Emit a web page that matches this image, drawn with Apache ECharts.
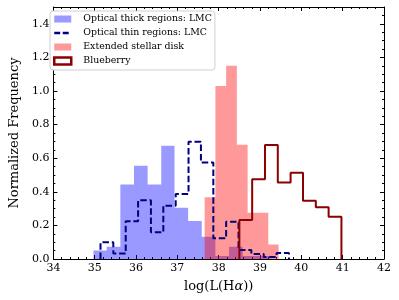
<!DOCTYPE html>
<html>
<head>
<meta charset="utf-8">
<script src="https://cdn.jsdelivr.net/npm/echarts@6/dist/echarts.min.js"></script>
<style>html,body{margin:0;padding:0;background:#fff}#c{width:399px;height:300px}</style>
</head>
<body>
<div id="c"></div>
<script>
// Histogram bin edges and normalized frequencies
var thickEdges = [34.97, 35.29, 35.62, 35.95, 36.28, 36.61, 36.93, 37.26, 37.59, 37.92, 38.25, 38.58, 38.90, 39.23];
var thickVals  = [0.05, 0.073, 0.444, 0.555, 0.444, 0.674, 0.305, 0.226, 0.133, 0.018, 0.073, 0.018, 0.018];

var thinEdges = [35.14, 35.45, 35.75, 36.05, 36.36, 36.66, 36.96, 37.27, 37.57, 37.87, 38.18, 38.48, 38.79, 39.09, 39.40, 39.70];
var thinVals  = [0.099, 0.032, 0.224, 0.349, 0.159, 0.317, 0.387, 0.698, 0.575, 0.123, 0.222, 0.054, 0.03, 0.012, 0.035];

var diskEdges = [37.66, 37.92, 38.18, 38.44, 38.70, 38.96, 39.20, 39.45];
var diskVals  = [0.367, 1.03, 1.15, 0.68, 0.276, 0.276, 0.087];

var berryEdges = [38.50, 38.81, 39.12, 39.43, 39.74, 40.04, 40.35, 40.66, 40.97];
var berryVals  = [0.232, 0.474, 0.678, 0.456, 0.514, 0.347, 0.308, 0.252];

var seriesNames = ['Optical thick regions: LMC', 'Optical thin regions: LMC', 'Extended stellar disk', 'Blueberry'];
var xTicks = [34, 35, 36, 37, 38, 39, 40, 41, 42];
var yTicks = [0.0, 0.2, 0.4, 0.6, 0.8, 1.0, 1.2, 1.4];

function stepData(edges, vals) {
  var pts = [[edges[0], 0]];
  for (var i = 0; i < vals.length; i++) pts.push([edges[i], vals[i]]);
  pts.push([edges[edges.length - 1], 0]);
  return pts;
}

var FONT = 'DejaVu Serif';
var chart = echarts.init(document.getElementById('c'), null, {renderer: 'canvas'});

function xAx(pos, show) {
  return {
    type: 'value', position: pos, min: xTicks[0], max: xTicks[xTicks.length - 1], interval: 1,
    axisLine: {show: true, onZero: false, lineStyle: {color: '#000', width: 1}},
    axisTick: {show: true, inside: true, length: 4, lineStyle: {color: '#000', width: 1}},
    minorTick: {show: true, splitNumber: 5, length: 2, lineStyle: {color: '#000', width: 1}},
    splitLine: {show: false},
    axisLabel: {show: show, color: '#000', fontFamily: FONT, fontSize: 11, margin: 4,
      formatter: function (v) { return String(Math.round(v)); }},
    name: show ? 'log(L(H{a|α}))' : '',
    nameLocation: 'middle', nameGap: 21,
    nameTextStyle: {color: '#000', fontFamily: FONT, fontSize: 13,
      rich: {a: {fontFamily: FONT, fontSize: 13, fontStyle: 'italic', color: '#000'}}}
  };
}
function yAx(pos, show) {
  return {
    type: 'value', position: pos, min: 0, max: 1.5, interval: 0.2,
    axisLine: {show: true, onZero: false, lineStyle: {color: '#000', width: 1}},
    axisTick: {show: true, inside: true, length: 4, lineStyle: {color: '#000', width: 1}},
    minorTick: {show: true, splitNumber: 4, length: 2, lineStyle: {color: '#000', width: 1}},
    splitLine: {show: false},
    axisLabel: {show: show, color: '#000', fontFamily: FONT, fontSize: 11, margin: 4, showMaxLabel: false,
      formatter: function (v) { return v.toFixed(1); }},
    name: show ? 'Normalized Frequency' : '',
    nameLocation: 'middle', nameGap: 25,
    nameTextStyle: {color: '#000', fontFamily: FONT, fontSize: 13}
  };
}

chart.setOption({
  animation: false,
  grid: {left: 45, right: 15, top: 7, bottom: 41, containLabel: false},
  xAxis: [xAx('bottom', true), xAx('top', false)],
  yAxis: [yAx('left', true), yAx('right', false)],
  legend: {
    left: 50, top: 11, orient: 'vertical',
    backgroundColor: '#fff', borderColor: '#d0d0d0', borderWidth: 1, borderRadius: 3,
    padding: [3, 3, 4, 3], itemWidth: 17, itemHeight: 7, itemGap: 4,
    textStyle: {fontFamily: FONT, fontSize: 9.4, color: '#000', lineHeight: 10, padding: [0, 0, 0, 7]},
    data: [
      {name: seriesNames[0], icon: 'rect', itemStyle: {color: 'rgba(0,0,255,0.4)', borderWidth: 0}},
      {name: seriesNames[1], icon: 'path://M0,0h7v3h-7zM10,0h7v3h-7zM20,0h0v3h0z', itemStyle: {color: '#000080', borderWidth: 0}},
      {name: seriesNames[2], icon: 'rect', itemStyle: {color: 'rgba(255,0,0,0.4)', borderWidth: 0}},
      {name: seriesNames[3], icon: 'rect', itemStyle: {color: '#fff', borderColor: '#8b0000', borderWidth: 2.5}}
    ]
  },
  series: [
    {name: seriesNames[0], type: 'line', step: 'end', symbol: 'none', data: stepData(thickEdges, thickVals),
      color: 'rgba(0,0,255,0.4)', lineStyle: {width: 0, opacity: 0}, areaStyle: {color: 'rgba(0,0,255,0.4)', opacity: 1}},
    {name: seriesNames[1], type: 'line', step: 'end', symbol: 'none', data: stepData(thinEdges, thinVals),
      color: '#000080', lineStyle: {width: 2, color: '#000080', type: [6.5, 2.8]}},
    {name: seriesNames[2], type: 'line', step: 'end', symbol: 'none', data: stepData(diskEdges, diskVals),
      color: 'rgba(255,0,0,0.4)', lineStyle: {width: 0, opacity: 0}, areaStyle: {color: 'rgba(255,0,0,0.4)', opacity: 1}},
    {name: seriesNames[3], type: 'line', step: 'end', symbol: 'none', data: stepData(berryEdges, berryVals),
      color: '#8b0000', lineStyle: {width: 2, color: '#8b0000'}}
  ]
});
</script>
</body>
</html>
